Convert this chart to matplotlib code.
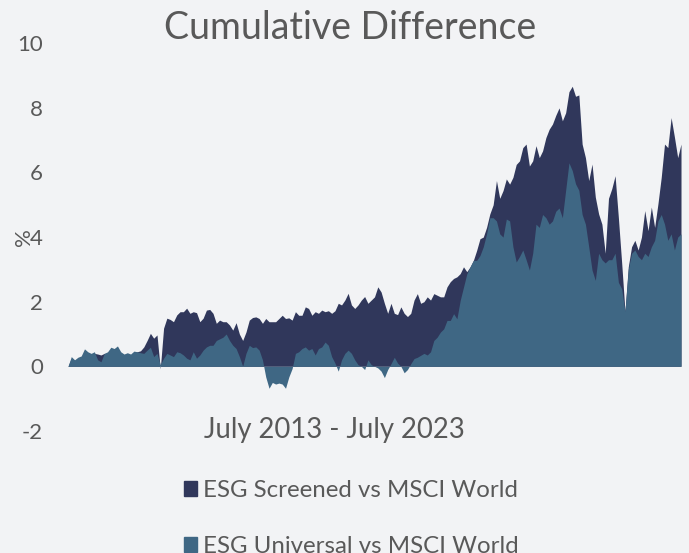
import numpy as np
import matplotlib
matplotlib.use("Agg")
import matplotlib.pyplot as plt
from matplotlib.patches import Patch

# ---------- DATA (% cumulative difference) ----------
series_names = ["ESG Screened vs MSCI World", "ESG Universal vs MSCI World"]
period_label = "July 2013 - July 2023"
y_ticks = [-2, 0, 2, 4, 6, 8, 10]

screened = [
    0.00, 0.25, 0.18, 0.25, 0.28, 0.45, 0.40, 0.35, 0.40, 0.38, 0.35, 0.40,
    0.40, 0.50, 0.48, 0.55, 0.40, 0.33, 0.38, 0.35, 0.42, 0.45, 0.48, 0.60,
    0.80, 1.02, 0.87, 0.97, -0.08, 1.18, 1.49, 1.45, 1.38, 1.59, 1.69, 1.69,
    1.80, 1.64, 1.69, 1.66, 1.38, 1.49,
    1.74, 1.76, 1.64, 1.33, 1.43, 1.38, 1.38, 1.28, 1.12, 1.35, 1.00, 0.80,
    1.06, 1.43, 1.51, 1.53, 1.48, 1.33, 1.48, 1.38, 1.38, 1.38, 1.48, 1.58,
    1.48, 1.50, 1.43, 1.69, 1.58, 1.58, 1.84, 1.79, 1.58, 1.69, 1.64, 1.74,
    1.69, 1.72, 1.64, 1.72, 1.95, 1.90, 2.05, 2.26, 1.90, 1.79, 1.90, 2.05,
    2.16, 1.95,
    2.05, 2.15, 2.46, 2.30, 1.95, 1.64, 1.95, 1.64, 1.60, 1.84, 1.64, 1.54,
    1.64, 2.05, 2.25, 1.95, 2.00, 2.15, 2.05, 2.25, 2.20, 2.15, 2.15, 2.46,
    2.62, 2.72, 2.77, 2.87, 3.08, 2.93, 3.08, 3.28, 3.59, 3.95, 4.00, 4.30,
    4.72, 5.00, 5.75, 5.20, 5.44, 5.80, 5.64, 5.85, 6.25, 6.36,
    6.77, 6.88, 6.20, 6.36, 6.83, 6.46, 6.67, 7.08, 7.34, 7.50, 7.77, 8.00,
    7.60, 7.85, 8.50, 8.67, 8.36, 8.40, 6.88, 6.46, 5.75, 6.26, 5.24, 4.72,
    4.40, 3.50, 5.20, 5.50, 5.90, 4.60, 3.20, 1.70, 3.08, 3.70, 3.90, 3.60,
    4.00, 4.82, 4.20, 4.93, 4.30, 5.03, 5.85, 6.88, 6.77, 7.70, 7.10, 6.46,
    6.88,
]

universal = [
    0.00, 0.30, 0.20, 0.28, 0.32, 0.54, 0.45, 0.40, 0.45, 0.20, 0.14, 0.40,
    0.45, 0.59, 0.55, 0.63, 0.45, 0.38, 0.42, 0.38, 0.47, 0.45, 0.42, 0.40,
    0.50, 0.59, 0.30, 0.40, 0.05, 0.25, 0.40, 0.35, 0.30, 0.45, 0.42, 0.35,
    0.25, 0.20, 0.45, 0.25, 0.35, 0.50,
    0.60, 0.65, 0.65, 0.80, 0.85, 0.90, 1.00, 0.80, 0.65, 0.55, 0.30, 0.00,
    0.40, 0.65, 0.58, 0.60, 0.50, 0.20, -0.33, -0.68, -0.50, -0.55, -0.52, -0.55,
    -0.68, -0.33, -0.07, 0.40, 0.45, 0.55, 0.60, 0.50, 0.55, 0.35, 0.55, 0.60,
    0.75, 0.65, 0.30, 0.10, -0.15, 0.20, 0.40, 0.50, 0.40, 0.20, 0.05, 0.00,
    -0.10, 0.20,
    0.05, 0.00, -0.05, -0.15, -0.35, -0.10, 0.08, 0.28, 0.10, 0.00, -0.20, -0.10,
    0.08, 0.24, 0.28, 0.34, 0.40, 0.35, 0.45, 0.80, 0.90, 1.06, 1.16, 1.42,
    1.42, 1.63, 1.47, 2.04, 2.45, 2.86, 3.08, 3.28, 3.28, 3.43, 3.70, 4.10,
    4.60, 4.60, 4.50, 4.10, 4.00, 4.56, 4.50, 3.70, 3.23, 3.40,
    3.60, 3.30, 2.98, 3.50, 4.40, 4.30, 4.70, 4.60, 4.40, 4.50, 4.80, 4.90,
    4.60, 5.45, 6.30, 6.06, 5.65, 5.45, 4.70, 4.40, 3.70, 2.98, 2.66, 3.50,
    3.30, 3.20, 3.30, 3.30, 3.50, 2.60, 2.40, 1.70, 3.00, 3.50, 3.60, 3.40,
    3.30, 3.50, 3.40, 3.70, 3.90, 4.50, 4.70, 4.40, 3.90, 4.10, 3.60, 4.00,
    4.10,
]

# ---------- STYLE ----------
BG = "#F2F3F5"
DARK = "#30375B"
TEAL = "#3F6784"
TEXT = "#595959"
plt.rcParams['font.family'] = ['Lato', 'DejaVu Sans']
plt.rcParams['axes.unicode_minus'] = False  # plain hyphen like the original

# ---------- PLOT ----------
fig = plt.figure(figsize=(6.89, 5.53), dpi=100, facecolor=BG)
ax = fig.add_axes([0.0987, 0.2208, 0.8897, 0.7009], facecolor=BG)

x = np.arange(len(screened))
ax.fill_between(x, screened, 0, color=DARK, lw=0)
ax.fill_between(x, universal, 0, color=TEAL, lw=0)

ax.set_xlim(x[0], x[-1])
ax.set_ylim(y_ticks[0], y_ticks[-1])
ax.set_yticks(y_ticks)
ax.set_xticks([])
ax.tick_params(axis='y', length=0, pad=18, labelsize=16, labelcolor=TEXT)
for s in ax.spines.values():
    s.set_visible(False)

# the original has the % sign sitting right against the "4" tick
ax.set_ylabel("%", fontsize=16, color=TEXT)
ax.yaxis.set_label_coords(-0.056, 0.5)

fig.text(350 / 689, 1 - 28 / 553, "Cumulative Difference", ha='center', va='center',
         fontsize=27, color=TEXT)
fig.text(334 / 689, 1 - 430 / 553, period_label, ha='center', va='center',
         fontsize=19.8, color=TEXT)

handles = [Patch(color=DARK, label=series_names[0]),
           Patch(color=TEAL, label=series_names[1])]
fig.legend(handles=handles, loc='upper left', bbox_to_anchor=(184 / 689, 1 - 480 / 553),
           frameon=False, fontsize=17.3, handlelength=0.55, handleheight=0.55,
           handletextpad=0.25, labelspacing=1.45, borderaxespad=0, borderpad=0,
           labelcolor=TEXT)

fig.savefig("out.png", dpi=100, facecolor=BG)
